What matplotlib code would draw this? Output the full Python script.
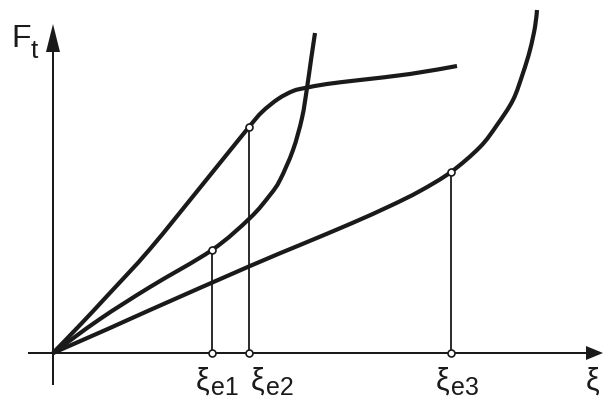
import numpy
import matplotlib
matplotlib.use('Agg')
from matplotlib import pyplot
from matplotlib.path import Path
from matplotlib.patches import PathPatch

# all values are in pixels measured from the origin of the diagram
# (the origin sits at pixel 53, 353 of the 603 x 405 picture)

# steep curve that flattens out
curve_a_x = [0, 27, 55, 97, 154, 196, 209, 225, 240, 252, 274, 307, 357, 404]
curve_a_y = [0, 28, 58, 104, 174, 226, 241, 254, 262, 265, 269, 273, 279, 287]

# middle curve that turns steeply upward
curve_b_x = [0, 47, 97, 159, 197, 217, 227, 240, 249, 254, 258, 262]
curve_b_y = [0, 34, 66, 103, 135, 158, 173, 203, 235, 265, 293, 320]

# flat curve that turns upward at the end
curve_c_x = [0, 57, 97, 197, 247, 297, 337, 367, 398, 427, 444, 460, 470, 477, 482, 484]
curve_c_y = [0, 25, 43, 87, 108, 129, 147, 162, 181, 206, 228, 253, 280, 303, 326, 343]

# marked points xi_e on the curves
xi_e = [159, 196, 398]
f_e = [103, 226, 181]
xi_labels = ['e1', 'e2', 'e3']
# left edges of the labels below the axis
xi_label_x = [143, 198, 383]

col = '#1a1a1a'
font = 'Liberation Sans'


def smooth_path(xs, ys):
    # bezier path through the read points (catmull-rom tangents)
    pts = numpy.column_stack([xs, ys]).astype(float)
    verts = [pts[0]]
    codes = [Path.MOVETO]
    n = len(pts)
    for i in range(n - 1):
        p0 = pts[max(i - 1, 0)]
        p1 = pts[i]
        p2 = pts[i + 1]
        p3 = pts[min(i + 2, n - 1)]
        verts += [p1 + (p2 - p0) / 6.0, p2 - (p3 - p1) / 6.0, p2]
        codes += [Path.CURVE4] * 3
    return Path(verts, codes)


fig = pyplot.figure(figsize=(6.03, 4.05), dpi=100)
ax = fig.add_axes([0, 0, 1, 1])
ax.set_xlim(-53, 550)
ax.set_ylim(-52, 353)
ax.axis('off')

# the two axes with arrow heads
ax.arrow(-25, 0, 575, 0, width=2, head_width=14, head_length=17,
    length_includes_head=True, fc=col, ec='none')
ax.arrow(0, -32, 0, 361, width=2, head_width=14, head_length=28,
    length_includes_head=True, fc=col, ec='none')

# draw the three curves
for cx, cy in [(curve_a_x, curve_a_y), (curve_b_x, curve_b_y),
        (curve_c_x, curve_c_y)]:
    ax.add_patch(PathPatch(smooth_path(cx, cy), fill=False, ec=col,
        lw=3.0, capstyle='butt', joinstyle='round', zorder=3))

# drop lines from the marked points to the xi axis
for x, f in zip(xi_e, f_e):
    ax.plot([x, x], [0, f], color=col, lw=1.3, zorder=2)
    ax.plot([x, x], [0, f], 'o', ms=5, mfc='white', mec=col,
        mew=1.2, zorder=4)

# labels below the axis
for lx, lab in zip(xi_label_x, xi_labels):
    ax.text(lx, -37, '\u03be', fontsize=22, family=font, color=col,
        ha='left', va='baseline')
    ax.text(lx + 15, -42, lab, fontsize=18, family=font, color=col,
        ha='left', va='baseline')
ax.text(533, -37, '\u03be', fontsize=22, family=font, color=col,
    ha='left', va='baseline')

# axis label F_t
ax.text(-42, 306, 'F', fontsize=23, family=font, color=col,
    ha='left', va='baseline')
ax.text(-22, 295, 't', fontsize=19, family=font, color=col,
    ha='left', va='baseline')

fig.savefig('out.png', dpi=100, facecolor='white')
